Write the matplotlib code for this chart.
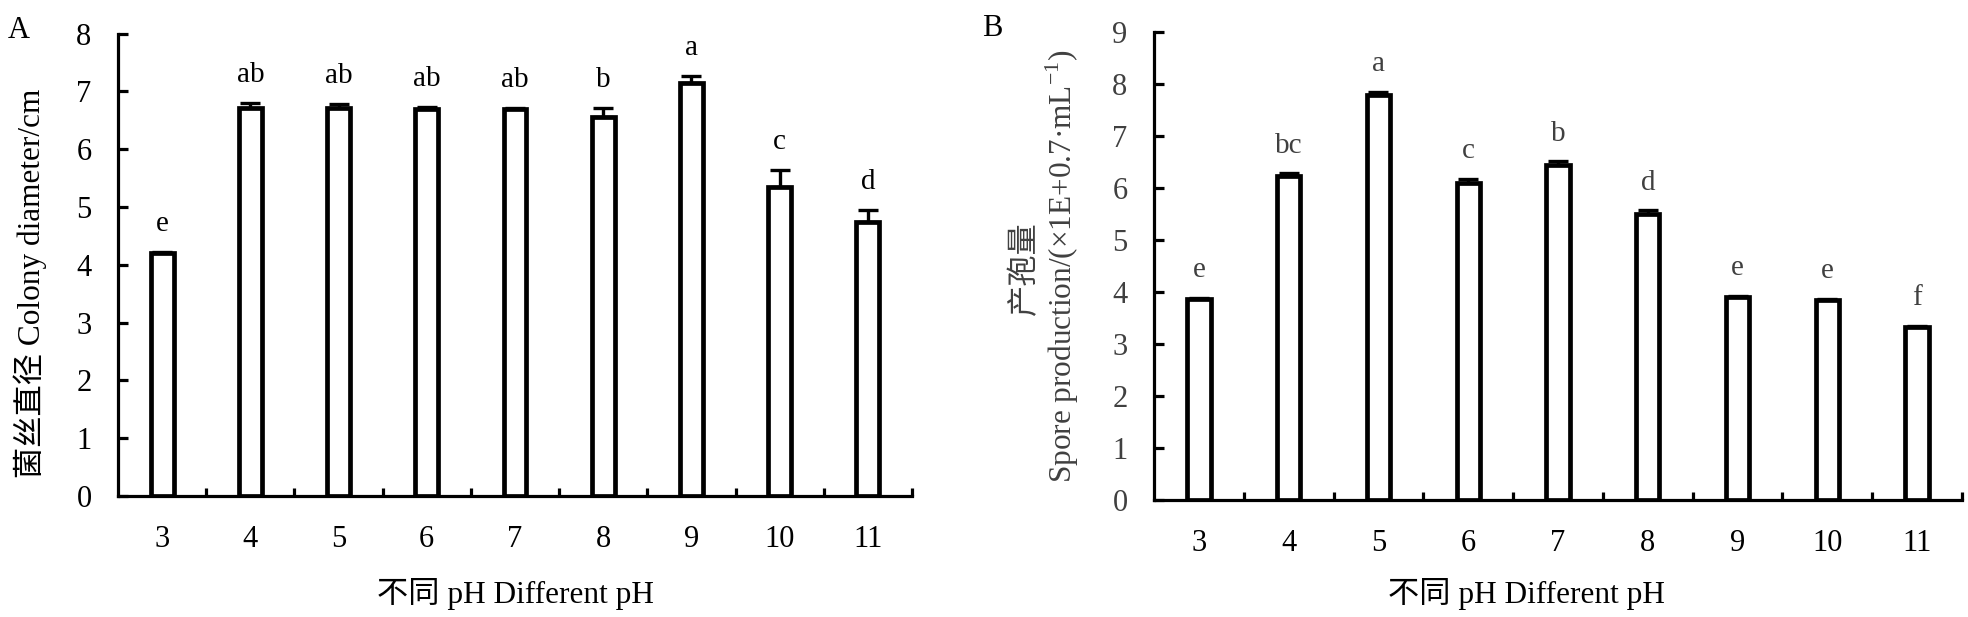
import numpy as np
import matplotlib.pyplot as plt
from matplotlib.ticker import FixedLocator

plt.rcParams['font.family'] = ['Liberation Serif', 'Noto Sans CJK SC']
plt.rcParams['mathtext.fontset'] = 'custom'
plt.rcParams['mathtext.rm'] = 'Liberation Serif'

# pH levels
ph_labels = ['3', '4', '5', '6', '7', '8', '9', '10', '11']

# panel A: colony diameter (cm)
diameter = [4.20, 6.72, 6.72, 6.70, 6.70, 6.55, 7.15, 5.34, 4.75]
diameter_err = [0.03, 0.08, 0.07, 0.03, 0.02, 0.17, 0.12, 0.31, 0.20]
diameter_sig = ['e', 'ab', 'ab', 'ab', 'ab', 'b', 'a', 'c', 'd']

# panel B: spore production
spores = [3.86, 6.24, 7.78, 6.10, 6.44, 5.50, 3.90, 3.84, 3.32]
spores_err = [0.03, 0.04, 0.07, 0.07, 0.07, 0.07, 0.03, 0.03, 0.03]
spores_sig = ['e', 'bc', 'a', 'c', 'b', 'd', 'e', 'e', 'f']

W, H = 1968, 617
fig = plt.figure(figsize=(W / 100, H / 100), dpi=100)


def px(x, y):
    return x / W, 1 - y / H


def draw_panel(ax, values, errs, sigs, ymax, txt_color):
    x = np.arange(len(values))
    ax.bar(x, values, width=0.26, color='white', edgecolor='black',
           linewidth=3.4, zorder=3)
    ax.errorbar(x, values, yerr=[np.zeros(len(errs)), errs], fmt='none',
                ecolor='black', elinewidth=2.4, capsize=7, capthick=2.4,
                zorder=2)
    for xi, v, e, s in zip(x, values, errs, sigs):
        ax.annotate(s, (xi, v + e), xytext=(0, 15), textcoords='offset points',
                    ha='center', va='baseline', fontsize=21, color=txt_color)
    ax.set_xlim(-0.5, len(values) - 0.5)
    ax.set_ylim(0, ymax)
    ax.set_yticks(range(ymax + 1))
    ax.set_xticks(x)
    ax.set_xticklabels(ph_labels)
    ax.xaxis.set_minor_locator(FixedLocator(np.arange(0.5, len(values), 1)))
    for side in ['top', 'right']:
        ax.spines[side].set_visible(False)
    for side in ['left', 'bottom']:
        ax.spines[side].set_linewidth(2.3)
    ax.tick_params(axis='y', direction='in', length=7, width=2.3, pad=19,
                   labelsize=22, labelcolor=txt_color)
    ax.tick_params(axis='x', which='major', length=0, pad=21, labelsize=22)
    ax.tick_params(axis='x', which='minor', direction='in', length=6, width=2.3)


l, b = px(118, 496)
r, t = px(912, 33.7)
axA = fig.add_axes([l, b, r - l, t - b])
draw_panel(axA, diameter, diameter_err, diameter_sig, 8, 'black')

l, b = px(1154, 500)
r, t = px(1962, 32)
axB = fig.add_axes([l, b, r - l, t - b])
draw_panel(axB, spores, spores_err, spores_sig, 9, '#404040')

fig.text(*px(19, 30), 'A', fontsize=22, ha='center', va='center')
fig.text(*px(992, 28), 'B', fontsize=22, ha='center', va='center')

fig.text(*px(30, 283), '菌丝直径 Colony diameter/cm', fontsize=22.5,
         rotation=90, ha='center', va='center')
fig.text(*px(1025, 268), '产孢量', fontsize=22.5, rotation=90,
         ha='center', va='center', color='#404040')
fig.text(*px(1062, 266), r'Spore production/(×1E+0.7·mL$^{-1}$)', fontsize=22.5,
         rotation=90, ha='center', va='center', color='#404040')

fig.text(*px(515, 594), '不同 pH Different pH', fontsize=22.5,
         ha='center', va='center')
fig.text(*px(1526, 594), '不同 pH Different pH', fontsize=22.5,
         ha='center', va='center')

fig.savefig('out.png', dpi=100)
